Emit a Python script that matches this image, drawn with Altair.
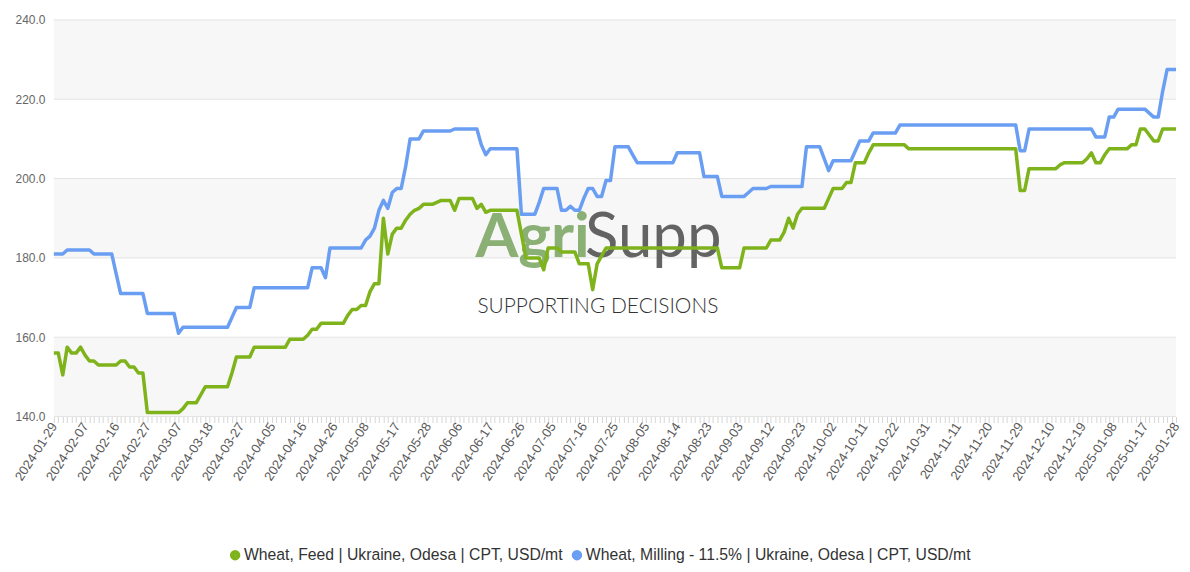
import altair as alt
import pandas as pd

# ---------------- data ----------------
feed_name = "Wheat, Feed | Ukraine, Odesa | CPT, USD/mt"
milling_name = "Wheat, Milling - 11.5% | Ukraine, Odesa | CPT, USD/mt"

feed_values = [
    156, 156, 150.5, 157.5, 156, 156, 157.5, 155.5, 154, 154,
    153, 153, 153, 153, 153, 154, 154, 152.5, 152.5, 151,
    151, 141, 141, 141, 141, 141, 141, 141, 141, 142,
    143.5, 143.5, 143.5, 145.5, 147.5, 147.5, 147.5, 147.5, 147.5, 147.5,
    151, 155, 155, 155, 155, 157.5, 157.5, 157.5, 157.5, 157.5,
    157.5, 157.5, 157.5, 159.5, 159.5, 159.5, 159.5, 160.5, 162, 162,
    163.5, 163.5, 163.5, 163.5, 163.5, 163.5, 165.5, 167, 167, 168,
    168, 171.5, 173.5, 173.5, 190, 181, 186, 187.5, 187.5, 189.5,
    191, 192, 192.5, 193.5, 193.5, 193.5, 194, 194.5, 194.5, 194.5,
    192, 195, 195, 195, 195, 192.5, 193.5, 191.5, 192, 192,
    192, 192, 192, 192, 192, 186, 180, 180, 180, 180,
    177, 182.5, 182.5, 182.5, 181.5, 181.5, 181.5, 181.5, 178.5, 178.5,
    178.5, 172, 178.5, 180.5, 182.5, 182.5, 182.5, 182.5, 182.5, 182.5,
    182.5, 182.5, 182.5, 182.5, 182.5, 182.5, 182.5, 182.5, 182.5, 182.5,
    182.5, 182.5, 182.5, 182.5, 182.5, 182.5, 182.5, 182.5, 182.5, 182.5,
    177.5, 177.5, 177.5, 177.5, 177.5, 182.5, 182.5, 182.5, 182.5, 182.5,
    182.5, 184.5, 184.5, 184.5, 186.5, 190, 187.5, 191, 192.5, 192.5,
    192.5, 192.5, 192.5, 192.5, 195, 197.5, 197.5, 197.5, 199, 199,
    204, 204, 204, 206.5, 208.5, 208.5, 208.5, 208.5, 208.5, 208.5,
    208.5, 208.5, 207.5, 207.5, 207.5, 207.5, 207.5, 207.5, 207.5, 207.5,
    207.5, 207.5, 207.5, 207.5, 207.5, 207.5, 207.5, 207.5, 207.5, 207.5,
    207.5, 207.5, 207.5, 207.5, 207.5, 207.5, 207.5, 197, 197, 202.5,
    202.5, 202.5, 202.5, 202.5, 202.5, 202.5, 203.5, 204, 204, 204,
    204, 204, 205, 206.5, 204, 204, 206, 207.5, 207.5, 207.5,
    207.5, 207.5, 208.5, 208.5, 212.5, 212.5, 211, 209.5, 209.5, 212.5,
    212.5, 212.5, 212.5,
]

milling_values = [
    181, 181, 181, 182, 182, 182, 182, 182, 182, 181,
    181, 181, 181, 181, 176, 171, 171, 171, 171, 171,
    171, 166, 166, 166, 166, 166, 166, 166, 161, 162.5,
    162.5, 162.5, 162.5, 162.5, 162.5, 162.5, 162.5, 162.5, 162.5, 162.5,
    165, 167.5, 167.5, 167.5, 167.5, 172.5, 172.5, 172.5, 172.5, 172.5,
    172.5, 172.5, 172.5, 172.5, 172.5, 172.5, 172.5, 172.5, 177.5, 177.5,
    177.5, 175, 182.5, 182.5, 182.5, 182.5, 182.5, 182.5, 182.5, 182.5,
    184.5, 185.5, 187.5, 192, 194.5, 192.5, 196.5, 197.5, 197.5, 203,
    210, 210, 210, 212, 212, 212, 212, 212, 212, 212,
    212.5, 212.5, 212.5, 212.5, 212.5, 212.5, 208.5, 206, 207.5, 207.5,
    207.5, 207.5, 207.5, 207.5, 207.5, 191, 191, 191, 191, 194,
    197.5, 197.5, 197.5, 197.5, 192, 192, 193, 192, 192, 195,
    197.5, 197.5, 195.5, 195.5, 199.5, 199.5, 208, 208, 208, 208,
    206, 204, 204, 204, 204, 204, 204, 204, 204, 204,
    206.5, 206.5, 206.5, 206.5, 206.5, 206.5, 200.5, 200.5, 200.5, 200.5,
    195.5, 195.5, 195.5, 195.5, 195.5, 195.5, 196.5, 197.5, 197.5, 197.5,
    197.5, 198, 198, 198, 198, 198, 198, 198, 198, 208,
    208, 208, 208, 205, 202, 204.5, 204.5, 204.5, 204.5, 204.5,
    207, 209.5, 209.5, 209.5, 211.5, 211.5, 211.5, 211.5, 211.5, 211.5,
    213.5, 213.5, 213.5, 213.5, 213.5, 213.5, 213.5, 213.5, 213.5, 213.5,
    213.5, 213.5, 213.5, 213.5, 213.5, 213.5, 213.5, 213.5, 213.5, 213.5,
    213.5, 213.5, 213.5, 213.5, 213.5, 213.5, 213.5, 207, 207, 212.5,
    212.5, 212.5, 212.5, 212.5, 212.5, 212.5, 212.5, 212.5, 212.5, 212.5,
    212.5, 212.5, 212.5, 212.5, 210.5, 210.5, 210.5, 215.5, 215.5, 217.5,
    217.5, 217.5, 217.5, 217.5, 217.5, 217.5, 216.5, 215.5, 215.5, 222,
    227.5, 227.5, 227.5,
]

tick_labels = [
    "2024-01-29", "2024-02-07", "2024-02-16", "2024-02-27", "2024-03-07",
    "2024-03-18", "2024-03-27", "2024-04-05", "2024-04-16", "2024-04-26",
    "2024-05-08", "2024-05-17", "2024-05-28", "2024-06-06", "2024-06-17",
    "2024-06-26", "2024-07-05", "2024-07-16", "2024-07-25", "2024-08-05",
    "2024-08-14", "2024-08-23", "2024-09-03", "2024-09-12", "2024-09-23",
    "2024-10-02", "2024-10-11", "2024-10-22", "2024-10-31", "2024-11-11",
    "2024-11-20", "2024-11-29", "2024-12-10", "2024-12-19", "2025-01-08",
    "2025-01-17", "2025-01-28",
]
label_step = 7  # one labelled date every 7 observations

y_ticks = [140, 160, 180, 200, 220, 240]
band_lows = [140, 180, 220]
band_highs = [160, 200, 240]

logo_left = "Agri"
logo_right = "Supp"
logo_tagline = "SUPPORTING DECISIONS"

# ---------------- tables ----------------
rows = []
for i, v in enumerate(feed_values):
    rows.append({"idx": i, "value": v, "series": feed_name})
for i, v in enumerate(milling_values):
    rows.append({"idx": i, "value": v, "series": milling_name})
df = pd.DataFrame(rows)

n_last = max(len(feed_values), len(milling_values)) - 1
major_vals = [k * label_step for k in range(len(tick_labels))]
minor_vals = list(range(n_last + 1))

bands_df = pd.DataFrame({"lo": band_lows, "hi": band_highs})
grid_df = pd.DataFrame({"g": y_ticks})

GREEN = "#7fb31b"
BLUE = "#6a9ef2"
color_scale = alt.Scale(domain=[feed_name, milling_name], range=[GREEN, BLUE])

x_scale = alt.Scale(domain=[0, n_last], nice=False, zero=False)
y_scale = alt.Scale(domain=[140, 240], nice=False, zero=False)

y_axis = alt.Axis(values=y_ticks, format=".1f", grid=False, domain=False, ticks=False,
                  labelPadding=9, labelFontSize=12, labelColor="#666666",
                  labelFont="Liberation Sans", title=None)

label_expr = "[" + ",".join("'%s'" % t for t in tick_labels) + "][round(datum.value/%d)]" % label_step

x_axis_major = alt.Axis(values=major_vals, labelExpr=label_expr, labelAngle=-57,
                        labelAlign="right", labelBaseline="middle",
                        labelFontSize=13, labelColor="#5a5a5a", labelFont="Liberation Sans",
                        grid=False, domain=False, ticks=False, labelPadding=7,
                        title=None, orient="bottom", labelOverlap=False)
x_axis_minor = alt.Axis(values=minor_vals, labels=False, grid=False, domain=False,
                        ticks=True, tickSize=6, tickColor="#d6d6d6", tickWidth=1,
                        title=None, orient="bottom")

bands = alt.Chart(bands_df).mark_rect(color="#f7f7f7").encode(
    y=alt.Y("lo:Q", scale=y_scale, axis=y_axis), y2="hi:Q")

grid = alt.Chart(grid_df).mark_rule(color="#e3e3e3", strokeWidth=1).encode(
    y=alt.Y("g:Q", scale=y_scale, axis=y_axis))

one = pd.DataFrame({"t": [0]})
logo_a = alt.Chart(one).mark_text(text=logo_left, font="Lato", fontWeight="bold", fontSize=62,
                                  color="#6f9f55", opacity=0.8, align="left",
                                  baseline="alphabetic").encode(
    x=alt.value(423), y=alt.value(238))
logo_b = alt.Chart(one).mark_text(text=logo_right, font="Lato", fontWeight="normal", fontSize=62,
                                  color="#4a4a4a", opacity=0.85, align="left",
                                  baseline="alphabetic").encode(
    x=alt.value(533), y=alt.value(238))
logo_c = alt.Chart(one).mark_text(text=logo_tagline, font="Lato", fontWeight=300, fontSize=21,
                                  color="#333333", align="left",
                                  baseline="alphabetic").encode(
    x=alt.value(425), y=alt.value(294))

minor = alt.Chart(df).mark_line(opacity=0).encode(
    x=alt.X("idx:Q", scale=x_scale, axis=x_axis_minor),
    y=alt.Y("value:Q", scale=y_scale, axis=y_axis),
    detail="series:N")

legend = alt.Legend(title=None, orient="none", direction="horizontal",
                    legendX=174, legendY=529,
                    symbolType="circle", symbolSize=30,
                    symbolStrokeWidth=5, labelFontSize=15.8, labelFont="Liberation Sans",
                    labelColor="#333333", columnPadding=1, labelOffset=1, labelLimit=1000)

lines = alt.Chart(df).mark_line(strokeWidth=3.5, strokeJoin="round").encode(
    x=alt.X("idx:Q", scale=x_scale, axis=x_axis_major),
    y=alt.Y("value:Q", scale=y_scale, axis=y_axis),
    color=alt.Color("series:N", scale=color_scale, legend=legend))

chart = alt.layer(bands, grid, logo_a, logo_b, logo_c, minor, lines).resolve_axis(
    x="independent").resolve_scale(x="shared").properties(
    width=1126, height=398,
    padding={"left": 4, "top": 5, "right": 0, "bottom": 0}
).configure_view(stroke=None)

chart.save("out.html", embed_options={"renderer": "svg", "actions": False})
